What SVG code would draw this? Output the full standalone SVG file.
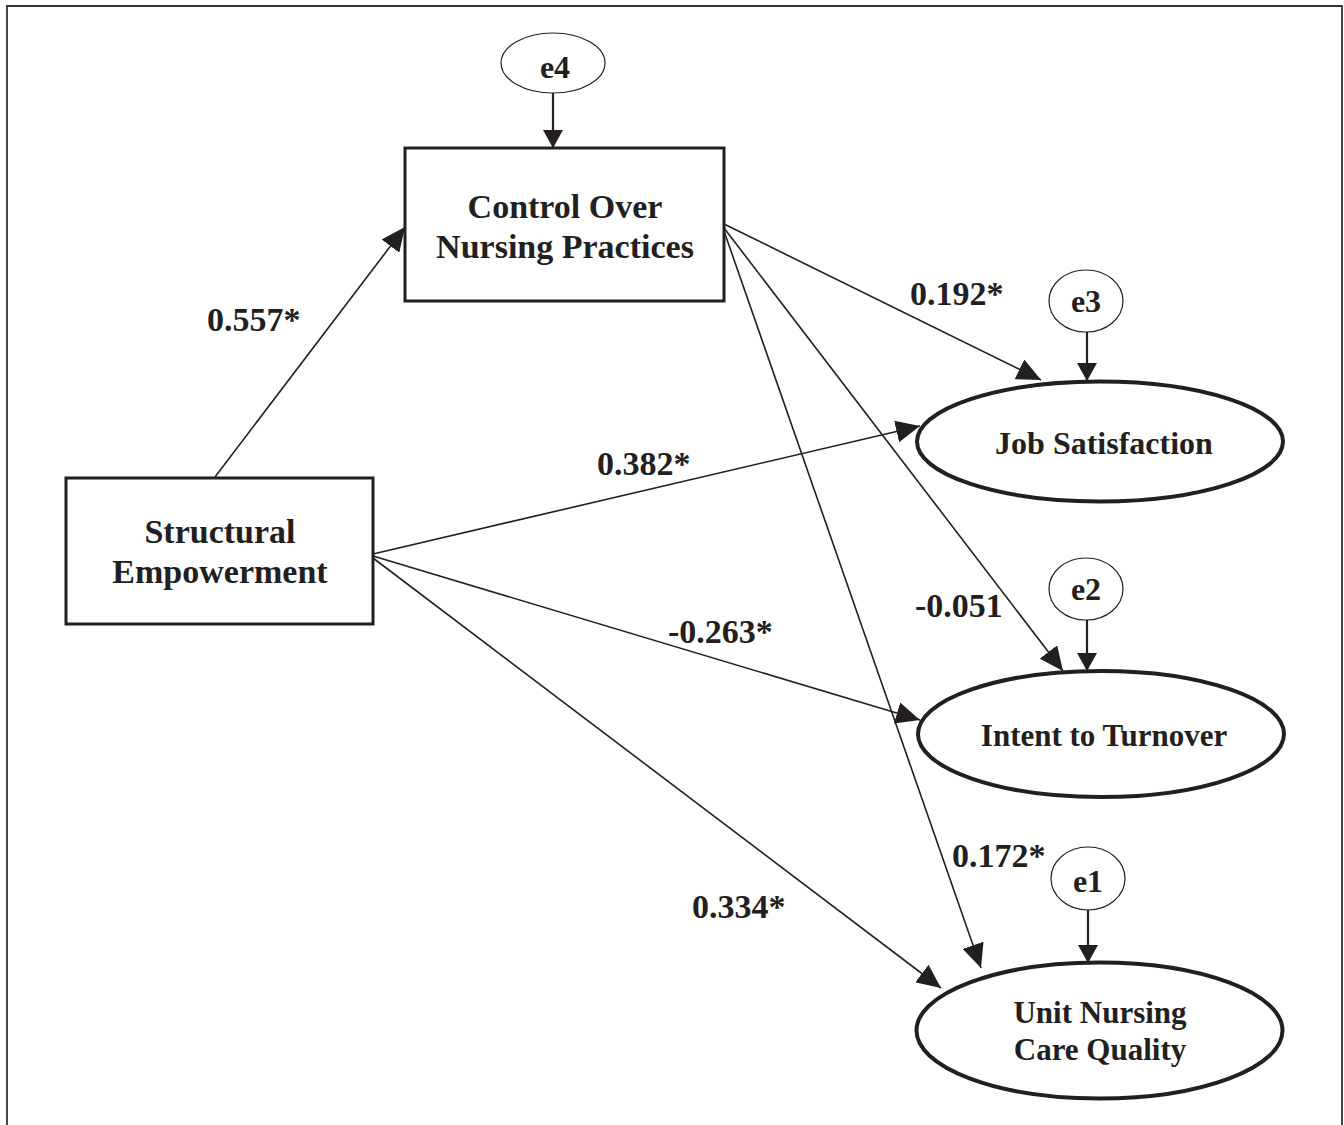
<svg xmlns="http://www.w3.org/2000/svg" width="1344" height="1125" viewBox="0 0 1344 1125">
<style>
.t{font-family:"Liberation Serif","Times New Roman",serif;font-weight:bold;fill:#231f20;text-anchor:middle}
.lbl{font-family:"Liberation Serif","Times New Roman",serif;font-weight:bold;fill:#231f20;font-size:34px}
.box{fill:#fff;stroke:#231f20;stroke-width:3}
.lat{fill:#fff;stroke:#231f20;stroke-width:4}
.err{fill:#fff;stroke:#231f20;stroke-width:1.2}
.c{stroke:#231f20;stroke-width:1.6;fill:none}
.ce{stroke:#231f20;stroke-width:2.2;fill:none}
</style>
<defs>
<marker id="ah" markerUnits="userSpaceOnUse" markerWidth="24" markerHeight="22" refX="24" refY="11" orient="auto" viewBox="0 0 24 22">
<path d="M0,0 L24,11 L0,22 z" fill="#231f20"/>
</marker>
<marker id="ahs" markerUnits="userSpaceOnUse" markerWidth="18" markerHeight="20" refX="18" refY="10" orient="auto" viewBox="0 0 18 20">
<path d="M0,0 L18,10 L0,20 z" fill="#231f20"/>
</marker>
</defs>
<rect width="1344" height="1125" fill="#fff"/>
<path d="M7,1125 V6 H1342 V1125" fill="none" stroke="#333" stroke-width="1.8"/>

<g id="connectors">
<line class="c" x1="215" y1="477" x2="405" y2="227" marker-end="url(#ah)"/>
<line class="c" x1="373" y1="554" x2="920" y2="426" marker-end="url(#ah)"/>
<line class="c" x1="373" y1="556" x2="920" y2="720" marker-end="url(#ah)"/>
<line class="c" x1="373" y1="558" x2="941" y2="988" marker-end="url(#ah)"/>
<line class="c" x1="724" y1="224" x2="1041" y2="380" marker-end="url(#ah)"/>
<line class="c" x1="724" y1="228" x2="1063" y2="671" marker-end="url(#ah)"/>
<line class="c" x1="724" y1="231" x2="981" y2="968" marker-end="url(#ah)"/>
<line class="ce" x1="553" y1="92" x2="553" y2="148" marker-end="url(#ahs)"/>
<line class="ce" x1="1087" y1="332" x2="1087" y2="381" marker-end="url(#ahs)"/>
<line class="ce" x1="1087" y1="620" x2="1087" y2="671" marker-end="url(#ahs)"/>
<line class="ce" x1="1088" y1="910" x2="1088" y2="963" marker-end="url(#ahs)"/>
<text class="lbl" x="207" y="331">0.557*</text>
<text class="lbl" x="910" y="305">0.192*</text>
<text class="lbl" x="597" y="475">0.382*</text>
<text class="lbl" x="668" y="643">-0.263*</text>
<text class="lbl" x="915" y="617">-0.051</text>
<text class="lbl" x="952" y="867">0.172*</text>
<text class="lbl" x="692" y="918">0.334*</text>
</g>

<g id="e4">
<ellipse class="err" cx="553" cy="63" rx="52" ry="30"/>
<text class="t" x="555" y="78" font-size="32">e4</text>
</g>
<g id="control-over-nursing-practices">
<rect class="box" x="405" y="148" width="319" height="153"/>
<text class="t" x="565" y="218" font-size="34">Control Over</text>
<text class="t" x="565" y="258" font-size="34">Nursing Practices</text>
</g>
<g id="structural-empowerment">
<rect class="box" x="66" y="478" width="307" height="146"/>
<text class="t" x="220" y="543" font-size="34">Structural</text>
<text class="t" x="220" y="583" font-size="34">Empowerment</text>
</g>
<g id="e3">
<ellipse class="err" cx="1086" cy="301" rx="37" ry="31"/>
<text class="t" x="1086" y="312" font-size="32">e3</text>
</g>
<g id="job-satisfaction">
<ellipse class="lat" cx="1100" cy="441.5" rx="183" ry="60"/>
<text class="t" x="1104" y="454" font-size="32">Job Satisfaction</text>
</g>
<g id="e2">
<ellipse class="err" cx="1086" cy="589" rx="37" ry="31"/>
<text class="t" x="1086" y="600" font-size="32">e2</text>
</g>
<g id="intent-to-turnover">
<ellipse class="lat" cx="1101" cy="734" rx="183" ry="63"/>
<text class="t" x="1104" y="746" font-size="31">Intent to Turnover</text>
</g>
<g id="e1">
<ellipse class="err" cx="1088" cy="878.5" rx="37" ry="31.5"/>
<text class="t" x="1088" y="892" font-size="32">e1</text>
</g>
<g id="unit-nursing-care-quality">
<ellipse class="lat" cx="1099.5" cy="1030.5" rx="183" ry="68"/>
<text class="t" x="1100" y="1023" font-size="31">Unit Nursing</text>
<text class="t" x="1100" y="1060" font-size="31">Care Quality</text>
</g>
</svg>
